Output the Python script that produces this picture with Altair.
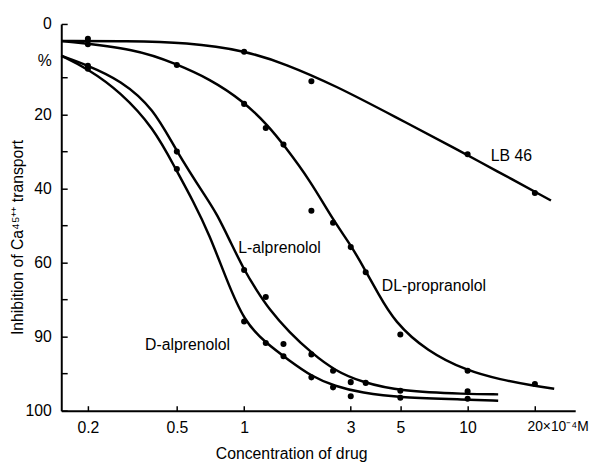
import altair as alt
import pandas as pd

FONT = "Liberation Sans, Arial, sans-serif"

# ---- measured points (concentration x10^-4 M, % inhibition) ----
lb46_conc = [0.2, 1, 2, 10, 20]
lb46_pct = [-0.5, 3.0, 11.0, 30.7, 41.2]

dlp_conc = [0.2, 0.5, 1, 1.25, 1.5, 2, 2.5, 3, 3.5, 5, 10, 20]
dlp_pct = [1.0, 6.6, 17.1, 23.6, 28.1, 46.0, 49.2, 55.8, 62.6, 79.4, 89.2, 92.8]

lalp_conc = [0.2, 0.5, 1, 1.25, 1.5, 2, 2.5, 3, 3.5, 5, 10]
lalp_pct = [6.8, 30.0, 62.0, 69.3, 82.0, 84.8, 89.2, 92.3, 92.5, 94.6, 94.8]

dalp_conc = [0.2, 0.5, 1, 1.25, 1.5, 2, 2.5, 3, 5, 10]
dalp_pct = [7.6, 34.7, 75.9, 81.7, 85.3, 91.0, 93.7, 96.1, 96.5, 96.8]

# ---- fitted curves ----
lb46_curve_conc = [0.152, 0.30, 0.554, 1.01, 1.53, 2.55, 4.71, 9.28, 13.0, 23.6]
lb46_curve_pct = [0.1, 0.1, 0.5, 2.7, 6.3, 12.1, 20.5, 29.9, 34.7, 43.2]

dlp_curve_conc = [0.152, 0.333, 0.495, 0.70, 1.0, 1.29, 1.5, 1.98, 2.5, 3.03, 3.5,
                  3.95, 4.7, 6.6, 9.9, 14.0, 19.8, 24.4]
dlp_curve_pct = [0.1, 2.3, 6.3, 10.3, 16.5, 23.2, 28.1, 37.9, 48.5, 55.6, 62.3,
                 68.0, 76.0, 84.0, 89.2, 91.6, 93.3, 94.1]

lalp_curve_conc = [0.152, 0.20, 0.28, 0.394, 0.497, 0.69, 0.752, 0.861, 1.0, 1.13,
                   1.29, 1.59, 2.01, 2.55, 3.35, 5.04, 9.9, 13.7]
lalp_curve_pct = [4.1, 6.7, 10.7, 18.3, 29.9, 43.2, 46.7, 53.9, 62.0, 67.2,
                  72.5, 78.8, 84.5, 89.2, 92.3, 94.8, 95.5, 95.6]

dalp_curve_conc = [0.152, 0.20, 0.28, 0.394, 0.494, 0.59, 0.70, 0.833, 1.0, 1.25,
                   1.59, 2.01, 2.55, 3.35, 5.04, 9.9, 13.7]
dalp_curve_pct = [4.1, 7.6, 13.9, 23.6, 34.7, 43.2, 52.5, 64.5, 75.9, 81.7,
                  86.4, 90.8, 93.4, 95.2, 96.5, 97.0, 97.3]

# ---- annotations ----
label_text = ["LB 46", "L-alprenolol", "D-alprenolol", "DL-propranolol"]
label_conc = [15.7, 1.44, 0.558, 7.07]
label_pct = [31.2, 56.0, 82.3, 66.3]

# ---- axes ----
x_ticks = [0.2, 0.5, 1, 3, 5, 10, 20]
y_ticks = [-4.5, 5.3, 10, 20, 30, 40, 50, 60, 70, 80, 90, 100]


def frame(name, xs, ys):
    return pd.DataFrame({"series": name, "conc": xs, "pct": ys})


points = pd.concat([
    frame("LB 46", lb46_conc, lb46_pct),
    frame("DL-propranolol", dlp_conc, dlp_pct),
    frame("L-alprenolol", lalp_conc, lalp_pct),
    frame("D-alprenolol", dalp_conc, dalp_pct),
])
curves = pd.concat([
    frame("LB 46", lb46_curve_conc, lb46_curve_pct),
    frame("DL-propranolol", dlp_curve_conc, dlp_curve_pct),
    frame("L-alprenolol", lalp_curve_conc, lalp_curve_pct),
    frame("D-alprenolol", dalp_curve_conc, dalp_curve_pct),
])
labels = pd.DataFrame({"text": label_text, "conc": label_conc, "pct": label_pct})

x_scale = alt.Scale(type="log", domain=[0.152, 30.3], nice=False)
y_scale = alt.Scale(domain=[-4.5, 100], reverse=True, nice=False, zero=False)

x_axis = alt.Axis(
    values=x_ticks,
    labelExpr="datum.value == 20 ? '20×10⁻⁴M' : (datum.value == 0.2 ? '0.2' : (datum.value == 0.5 ? '0.5' : format(datum.value, 'd')))",
    title="Concentration of drug",
    grid=False,
    tickSize={"expr": "-5"},
    labelPadding=14,
    labelFlush=False,
    labelOverlap=False,
    labelAlign={"condition": {"test": "datum.value == 20", "value": "left"}, "value": "center"},
    labelOffset={"condition": {"test": "datum.value == 20", "value": -8}, "value": 0},
    labelFontSize={"condition": {"test": "datum.value == 20", "value": 14}, "value": 16},
    titleX=233,
    titleY=44,
    titleAlign="center",
    titleBaseline="middle",
)
y_axis = alt.Axis(
    values=y_ticks,
    labelExpr="datum.value == -4.5 ? '0' : (datum.value == 5.3 ? '%' : (datum.value == 80 ? '90' : (datum.value % 20 == 0 ? format(datum.value, 'd') : '')))",
    title="Inhibition of Ca⁴⁵⁺⁺ transport",
    grid=False,
    tickSize={"expr": "-6"},
    tickOpacity={"condition": {"test": "datum.value == 5.3", "value": 0}, "value": 1},
    labelPadding=16,
    labelFlush=False,
    labelOverlap=False,
    titleX=-44,
    titleY=216,
    titleAngle=270,
    titleAlign="center",
    titleBaseline="middle",
)

x_enc = alt.X("conc:Q", scale=x_scale, axis=x_axis)
y_enc = alt.Y("pct:Q", scale=y_scale, axis=y_axis)

lines = alt.Chart(curves).mark_line(
    interpolate="basis", color="black", strokeWidth=2.5
).encode(x=x_enc, y=y_enc, detail="series:N")

dots = alt.Chart(points).mark_circle(size=38, color="black", opacity=1).encode(
    x=x_enc, y=y_enc
)

texts = alt.Chart(labels).mark_text(
    font=FONT, fontSize=16, color="black", align="center", baseline="middle"
).encode(x=x_enc, y=y_enc, text="text:N")

chart = (
    alt.layer(lines, dots, texts)
    .properties(
        width=521,
        height=392,
        padding={"left": 54, "top": 13, "right": 16, "bottom": 58},
        autosize=alt.AutoSizeParams(type="none"),
        background="white",
    )
    .configure_view(stroke=None)
    .configure_axis(
        domainColor="black",
        domainWidth=2,
        tickColor="black",
        tickWidth=1.5,
        labelColor="black",
        titleColor="black",
        labelFont=FONT,
        titleFont=FONT,
        labelFontSize=16,
        titleFontSize=16,
        titleFontWeight="normal",
    )
)

chart.save("out.html", embed_options={"renderer": "svg", "actions": False})
